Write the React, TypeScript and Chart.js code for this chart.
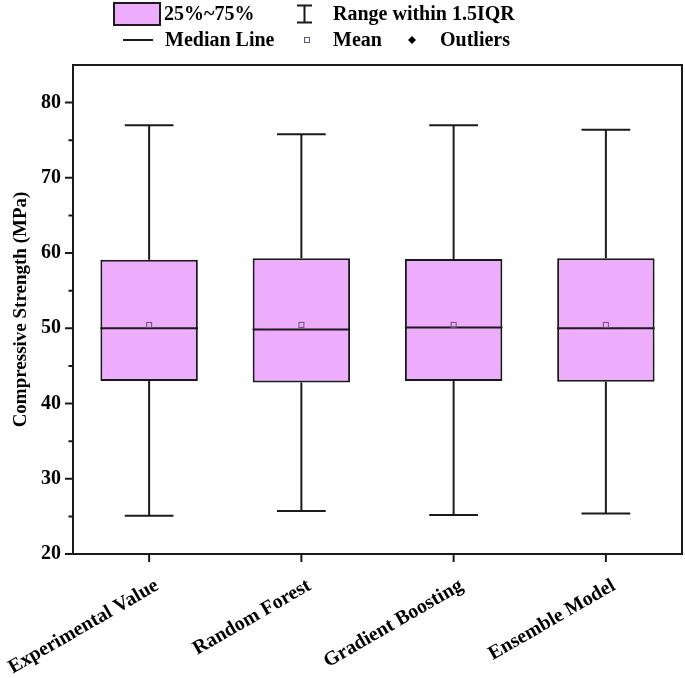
import React, { useEffect, useRef } from 'react';
import { Chart, registerables } from 'chart.js';
Chart.register(...registerables);

const categories = ['Experimental Value', 'Random Forest', 'Gradient Boosting', 'Ensemble Model'];
const whiskerLow = [25.1, 25.7, 25.2, 25.4];
const q1 = [43.0, 42.8, 43.0, 42.9];
const median = [50.0, 49.85, 50.1, 50.0];
const q3 = [59.1, 59.3, 59.2, 59.3];
const whiskerHigh = [77.0, 75.8, 77.0, 76.4];
const means = [50.45, 50.45, 50.45, 50.45];
const outliers: number[][] = [[], [], [], []];

const yMin = 20;
const yMax = 85;
const yStep = 5;
const yLabelStep = 10;

const legendBox = '25%~75%';
const legendRange = 'Range within 1.5IQR';
const legendMedian = 'Median Line';
const legendMean = 'Mean';
const legendOutliers = 'Outliers';
const yTitle = 'Compressive Strength (MPa)';

const FONT = "'Liberation Serif', 'Times New Roman', serif";
const BOX_FILL = 'rgb(238,172,253)';
const INK = '#1a1a1a';
const LW = 2;

const extrasPlugin = {
  id: 'boxExtras',
  afterDatasetsDraw(chart: any) {
    const { ctx, scales } = chart;
    const x = scales.x;
    const y = scales.y;
    const meta = chart.getDatasetMeta(0);
    ctx.save();
    ctx.strokeStyle = INK;
    ctx.lineWidth = LW;
    ctx.lineCap = 'butt';
    categories.forEach((_, i) => {
      const bar = meta.data[i];
      const cx = x.getPixelForValue(i);
      const half = bar.width / 2;
      const capHalf = half * 0.5;
      const yq1 = y.getPixelForValue(q1[i]);
      const yq3 = y.getPixelForValue(q3[i]);
      const yhi = y.getPixelForValue(whiskerHigh[i]);
      const ylo = y.getPixelForValue(whiskerLow[i]);
      const ymed = y.getPixelForValue(median[i]);
      ctx.beginPath();
      ctx.moveTo(cx, yq3);
      ctx.lineTo(cx, yhi);
      ctx.moveTo(cx - capHalf, yhi);
      ctx.lineTo(cx + capHalf, yhi);
      ctx.moveTo(cx, yq1);
      ctx.lineTo(cx, ylo);
      ctx.moveTo(cx - capHalf, ylo);
      ctx.lineTo(cx + capHalf, ylo);
      ctx.moveTo(cx - half, ymed);
      ctx.lineTo(cx + half, ymed);
      ctx.stroke();
      const ym = y.getPixelForValue(means[i]);
      ctx.save();
      ctx.strokeStyle = '#6a5070';
      ctx.lineWidth = 1;
      ctx.strokeRect(cx - 2.5, ym - 2.5, 5, 5);
      ctx.restore();
      outliers[i].forEach((v) => {
        const yo = y.getPixelForValue(v);
        ctx.save();
        ctx.fillStyle = INK;
        ctx.beginPath();
        ctx.moveTo(cx, yo - 4);
        ctx.lineTo(cx + 4, yo);
        ctx.lineTo(cx, yo + 4);
        ctx.lineTo(cx - 4, yo);
        ctx.closePath();
        ctx.fill();
        ctx.restore();
      });
    });
    ctx.restore();
  },
  afterDraw(chart: any) {
    const { ctx, chartArea, scales } = chart;
    const x = scales.x;
    const y = scales.y;
    const { left, right, top, bottom } = chartArea;
    ctx.save();
    ctx.strokeStyle = INK;
    ctx.lineWidth = LW;
    ctx.strokeRect(left, top, right - left, bottom - top);
    ctx.beginPath();
    y.ticks.forEach((t: any) => {
      const v = t.value;
      if (v >= yMax) return;
      const py = y.getPixelForValue(v);
      const major = v % yLabelStep === 0;
      ctx.moveTo(left, py);
      ctx.lineTo(left - (major ? 8 : 4.5), py);
    });
    categories.forEach((_, i) => {
      const px = x.getPixelForValue(i);
      ctx.moveTo(px, bottom);
      ctx.lineTo(px, bottom + 8);
    });
    ctx.stroke();

    ctx.font = `bold 20px ${FONT}`;
    ctx.fillStyle = '#000';
    ctx.textBaseline = 'middle';
    ctx.textAlign = 'left';
    ctx.fillStyle = BOX_FILL;
    ctx.fillRect(114, 3, 46, 22);
    ctx.lineWidth = LW;
    ctx.strokeStyle = INK;
    ctx.strokeRect(114, 3, 46, 22);
    ctx.fillStyle = '#000';
    ctx.fillText(legendBox, 164, 15);
    ctx.beginPath();
    ctx.moveTo(297, 5.5);
    ctx.lineTo(312, 5.5);
    ctx.moveTo(304.5, 5.5);
    ctx.lineTo(304.5, 22.5);
    ctx.moveTo(297, 22.5);
    ctx.lineTo(312, 22.5);
    ctx.stroke();
    ctx.fillText(legendRange, 333, 15);
    ctx.beginPath();
    ctx.moveTo(123, 40);
    ctx.lineTo(153, 40);
    ctx.stroke();
    ctx.fillText(legendMedian, 165, 41);
    ctx.save();
    ctx.strokeStyle = '#6a5070';
    ctx.lineWidth = 1;
    ctx.strokeRect(304.5, 37.5, 5, 5);
    ctx.restore();
    ctx.fillText(legendMean, 333, 41);
    ctx.beginPath();
    ctx.moveTo(412, 36);
    ctx.lineTo(416, 40);
    ctx.lineTo(412, 44);
    ctx.lineTo(408, 40);
    ctx.closePath();
    ctx.fill();
    ctx.fillText(legendOutliers, 440, 41);
    ctx.restore();
  },
};

export default function App() {
  const ref = useRef<HTMLCanvasElement>(null);
  useEffect(() => {
    if (!ref.current) return;
    const chart = new Chart(ref.current, {
      type: 'bar',
      data: {
        labels: categories,
        datasets: [
          {
            label: legendBox,
            data: categories.map((_, i) => [q1[i], q3[i]]) as any,
            backgroundColor: BOX_FILL,
            borderColor: INK,
            borderWidth: LW,
            borderSkipped: false,
            categoryPercentage: 1,
            barPercentage: 0.64,
          },
        ],
      },
      options: {
        responsive: false,
        animation: false,
        devicePixelRatio: 1,
        layout: { padding: { top: 65, right: 3, left: 0, bottom: 0 } },
        plugins: { legend: { display: false }, tooltip: { enabled: false } },
        scales: {
          x: {
            grid: { display: false, drawTicks: false },
            border: { display: false },
            ticks: {
              color: '#000',
              font: { family: FONT, size: 20, weight: 'bold' },
              minRotation: 30,
              maxRotation: 30,
              padding: 20,
              labelOffset: 8,
            },
            afterFit: (s: any) => {
              s.height = 124;
              s.paddingLeft = 0;
              s.paddingRight = 0;
            },
          },
          y: {
            min: yMin,
            max: yMax,
            grid: { display: false, drawTicks: false },
            border: { display: false },
            ticks: {
              stepSize: yStep,
              color: '#000',
              padding: 12,
              font: { family: FONT, size: 20, weight: 'bold' },
              callback: (v: any) => (Number(v) % yLabelStep === 0 && Number(v) < yMax ? String(v) : ''),
            },
            title: {
              display: true,
              text: yTitle,
              color: '#000',
              font: { family: FONT, size: 19, weight: 'bold' },
              padding: { top: 10, bottom: 0 },
            },
            afterFit: (s: any) => {
              s.width = 73;
              s.paddingTop = 0;
              s.paddingBottom = 0;
            },
          },
        },
      },
      plugins: [extrasPlugin],
    });
    return () => chart.destroy();
  }, []);
  return (
    <canvas
      ref={ref}
      width={685}
      height={678}
      style={{ position: 'fixed', left: 0, top: 0, width: 685, height: 678 }}
    />
  );
}
